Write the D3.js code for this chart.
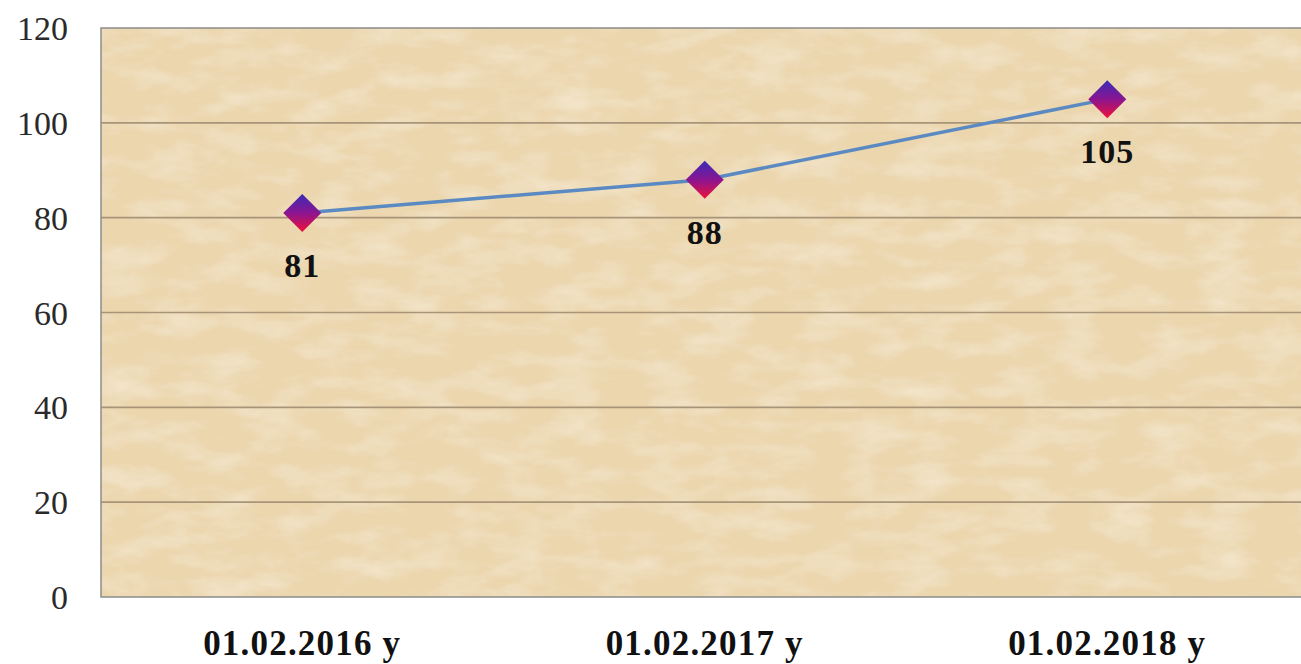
<!DOCTYPE html>
<html><head><meta charset="utf-8">
<script src="https://cdn.jsdelivr.net/npm/d3@7"></script>
<style>body{margin:0;background:#fff;}svg{display:block;}</style>
</head><body>
<script>
const categories = ["01.02.2016 y", "01.02.2017 y", "01.02.2018 y"];
const values = [81, 88, 105];
const yTicks = [0, 20, 40, 60, 80, 100, 120];

const W = 1301, H = 664;
const m = {left: 101, top: 28, bottom: 67};
const svg = d3.select("body").append("svg").attr("width", W).attr("height", H);
const defs = svg.append("defs");

const f = defs.append("filter").attr("id", "paper").attr("x", 0).attr("y", 0).attr("width", 1).attr("height", 1);
f.append("feTurbulence").attr("type", "fractalNoise").attr("baseFrequency", "0.02 0.045").attr("numOctaves", 4).attr("seed", 11).attr("result", "n");
f.append("feColorMatrix").attr("in", "n").attr("type", "matrix")
  .attr("values", "0 0 0 0 0.98  0 0 0 0 0.91  0 0 0 0 0.78  0.9 0 0 0 -0.38").attr("result", "c");
f.append("feComposite").attr("in", "c").attr("in2", "SourceGraphic").attr("operator", "over");

const g = defs.append("linearGradient").attr("id", "dia").attr("x1", 0).attr("y1", 0).attr("x2", 0).attr("y2", 1);
g.append("stop").attr("offset", "0%").attr("stop-color", "#3a2bb8");
g.append("stop").attr("offset", "50%").attr("stop-color", "#8a1590");
g.append("stop").attr("offset", "100%").attr("stop-color", "#f0103a");

const x = d3.scaleBand().domain(categories).range([m.left, m.left + 3 * 402.5]);
const y = d3.scaleLinear().domain([0, 120]).range([H - m.bottom, m.top]);

// plot background
svg.append("rect").attr("x", m.left).attr("y", m.top).attr("width", W - m.left).attr("height", y(0) - m.top)
  .attr("fill", "#ebd6ae").attr("filter", "url(#paper)");

// gridlines
svg.append("g").selectAll("line").data(yTicks.filter(d => d > 0 && d < 120)).join("line")
  .attr("x1", m.left).attr("x2", W).attr("y1", d => y(d)).attr("y2", d => y(d))
  .attr("stroke", "#a89478").attr("stroke-width", 1.6);

// border
svg.append("path").attr("d", `M${W},${m.top}H${m.left}V${y(0)}H${W}`)
  .attr("fill", "none").attr("stroke", "#8c8c8c").attr("stroke-width", 1.5);

// y axis
const yAxis = d3.axisLeft(y).tickValues(yTicks).tickSize(0).tickPadding(33);
const ya = svg.append("g").attr("transform", `translate(${m.left},0)`).call(yAxis);
ya.select(".domain").remove();
ya.selectAll("text").attr("font-family", "Liberation Serif, serif").attr("font-size", 34).attr("fill", "#2a2a2a").attr("dy", "0.34em");

// x axis
const xAxis = d3.axisBottom(x).tickSize(0).tickPadding(0);
const xa = svg.append("g").attr("transform", `translate(0,${y(0)})`).call(xAxis);
xa.select(".domain").remove();
xa.selectAll("text").attr("font-family", "Liberation Serif, serif").attr("font-size", 35).attr("font-weight", "bold")
  .attr("letter-spacing", 1.2).attr("fill", "#111").attr("dy", 0).attr("y", 58);

const cx = d => x(d) + x.bandwidth() / 2;
const data = categories.map((c, i) => ({c, v: values[i]}));

// line
svg.append("path").datum(data)
  .attr("d", d3.line().x(d => cx(d.c)).y(d => y(d.v)))
  .attr("fill", "none").attr("stroke", "#5b8ac2").attr("stroke-width", 3.5);

// markers
const r = 19;
svg.append("g").selectAll("path").data(data).join("path")
  .attr("d", d => `M${cx(d.c)},${y(d.v) - r}L${cx(d.c) + r},${y(d.v)}L${cx(d.c)},${y(d.v) + r}L${cx(d.c) - r},${y(d.v)}Z`)
  .attr("fill", "url(#dia)");

// labels
svg.append("g").selectAll("text").data(data).join("text")
  .attr("x", d => cx(d.c)).attr("y", d => y(d.v) + 64)
  .attr("text-anchor", "middle")
  .attr("font-family", "Liberation Serif, serif").attr("font-size", 34).attr("font-weight", "bold")
  .attr("letter-spacing", 1).attr("fill", "#111")
  .text(d => d.v);
</script>
</body></html>
